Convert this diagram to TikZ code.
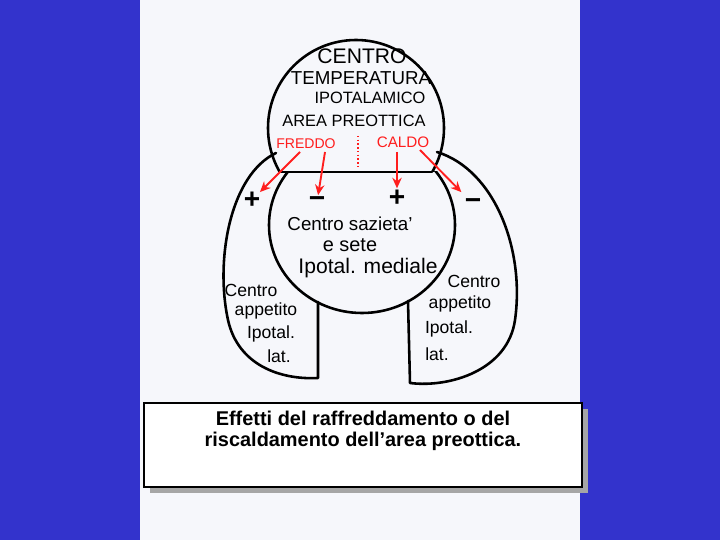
\documentclass[tikz,border=0pt]{standalone}
\usepackage{fontspec}
\setmainfont{Liberation Sans}
\usetikzlibrary{arrows.meta}
\definecolor{bgblue}{RGB}{51,51,204}
\definecolor{paper}{RGB}{246,247,251}
\definecolor{hred}{RGB}{255,30,30}
\begin{document}
\begin{tikzpicture}[x=0.03cm,y=-0.03cm,
  ink/.style={line width=2.2pt, line join=round, line cap=round},
  redarrow/.style={hred, line width=1.6pt, -{Stealth[length=9pt,width=8pt]}},
  hand/.style={inner sep=0pt, font=\fontsize{#1}{#1}\selectfont},
  redtxt/.style={inner sep=0pt, text=hred, font=\fontsize{#1}{#1}\selectfont},
  sign/.style={inner sep=1pt, font=\fontsize{24}{24}\selectfont\bfseries}]
% background
\fill[bgblue] (0,0) rectangle (720,540);
\fill[paper] (140,0) rectangle (580,540);
\useasboundingbox (0,0) rectangle (720,540);
% top circle (cut by chord)
\begin{scope}
  \clip (0,0) rectangle (720,172);
  \draw[ink] (356,128) circle[radius=88];
\end{scope}
\coordinate (chl) at (281,172);
\coordinate (chr) at (432,172);
\draw[ink] (chl) -- (chr);
% middle circle
\begin{scope}
  \clip (0,172) rectangle (720,540);
  \draw[ink] (362,225) ellipse[x radius=93, y radius=88];
\end{scope}
% outer lobes
\draw[ink] (276,153) .. controls (230,175) and (215,260) .. (228,320)
  .. controls (238,365) and (280,380) .. (318,378) -- (318,302);
\draw[ink] (437,152) .. controls (495,170) and (525,250) .. (515,320)
  .. controls (508,370) and (450,388) .. (410,383) -- (408,301);
% top circle text
\node[hand=18] (t1) at (362,56) {CENTRO};
\node[hand=16] (t2) at (361,78) {TEMPERATURA};
\node[hand=14] (t3) at (370,98) {IPOTALAMICO};
\node[hand=14] (t4) at (354,121) {AREA PREOTTICA};
\node[redtxt=12] (fr) at (306,144) {FREDDO};
\node[redtxt=13] (ca) at (403,142) {CALDO};
\coordinate (dt) at (358,136);
\coordinate (db) at (358,168);
\draw[hred, dotted, line width=1.2pt] (dt) -- (db);
% signs
\node[sign] (p1) at (252,200) {+};
\node[sign] (m1) at (317,202) {−};
\node[sign] (p2) at (397,198) {+};
\node[sign] (m2) at (473,204) {−};
% arrows
\coordinate (s1) at (300,152);
\coordinate (s2) at (325,152);
\coordinate (s3) at (397,152);
\coordinate (s4) at (420,150);
\draw[redarrow, shorten >=-2pt] (s1) -- (p1);
\draw[redarrow] (s2) -- (m1);
\draw[redarrow] (s3) -- (p2);
\draw[redarrow, shorten >=6pt] (s4) -- (m2);
% middle text
\node[hand=16] (m1t) at (350,224) {Centro sazieta'};
\node[hand=17] (m2t) at (350,245) {e sete};
\node[hand=18] (m3t) at (368,268) {Ipotal. mediale};
% left lobe text
\node[hand=15] (l1) at (251,290) {Centro};
\node[hand=15] (l2) at (266,311) {appetito};
\node[hand=15] (l3) at (271,334) {Ipotal.};
\node[hand=15] (l4) at (279,356) {lat.};
% right lobe text
\node[hand=15] (r1) at (474,281) {Centro};
\node[hand=15] (r2) at (460,304) {appetito};
\node[hand=15] (r3) at (449,329) {Ipotal.};
\node[hand=15] (r4) at (437,354) {lat.};
% caption box
\fill[gray!70] (150,409) rectangle (588,493);
\draw[fill=white, line width=1pt] (144,403) rectangle (582,487);
\node[align=center, inner sep=0pt, font=\fontsize{17}{17.6}\selectfont\bfseries] (cap) at (363,431)
  {Effetti del raffreddamento o del\\riscaldamento dell’area preottica.};
\end{tikzpicture}
\end{document}
